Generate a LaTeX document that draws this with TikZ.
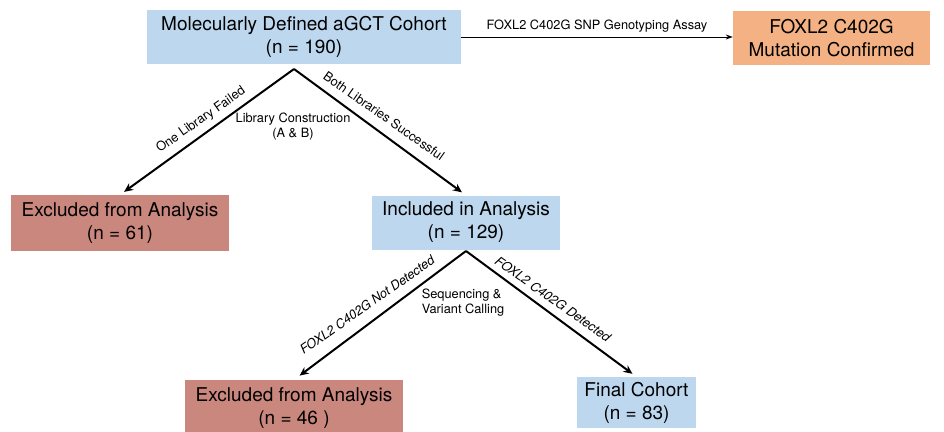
\documentclass[tikz,border=0pt]{standalone}
\usepackage{fontspec}
\setmainfont{TeX Gyre Heros}
\usetikzlibrary{arrows.meta}
\definecolor{bluebox}{RGB}{189,215,238}
\definecolor{orangebox}{RGB}{244,177,131}
\definecolor{redbox}{RGB}{201,135,126}
\begin{document}
\begin{tikzpicture}[x=1pt,y=-1pt,
  box/.style={rectangle, inner sep=0pt, align=center, font=\fontsize{19}{23}\selectfont, text=black},
  lbl/.style={inner sep=0pt, font=\fontsize{12.8}{15}\selectfont},
  ilbl/.style={inner sep=0pt, font=\fontsize{12.8}{15}\selectfont\itshape},
  fork/.style={line width=2pt, -{Stealth[length=9pt,width=8pt]}},
  thinarrow/.style={line width=0.9pt, -{Stealth[length=7pt,width=5pt]}}]
\useasboundingbox (0,0) rectangle (944,431);
\node[box, fill=bluebox, minimum width=314pt, minimum height=54pt] (top) at (304,37) {Molecularly Defined aGCT Cohort\\(n = 190)};
\node[box, fill=orangebox, minimum width=197pt, minimum height=54pt] (conf) at (831.5,38) {FOXL2 C402G\\Mutation Confirmed};
\node[box, fill=redbox, minimum width=218pt, minimum height=56pt] (ex1) at (120,223) {Excluded from Analysis\\(n = 61)};
\node[box, fill=bluebox, minimum width=188pt, minimum height=54pt] (inc) at (466,222.5) {Included in Analysis\\(n = 129)};
\node[box, fill=redbox, minimum width=218pt, minimum height=56pt] (ex2) at (294,408) {Excluded from Analysis\\(n = 46 )};
\node[box, fill=bluebox, minimum width=119pt, minimum height=51pt] (fin) at (636.5,402.5) {Final Cohort\\(n = 83)};

\coordinate (a1) at (294,69);
\coordinate (a2) at (466,251);

\draw[thinarrow] (top.east) -- (top.east -| conf.west)
  node[midway, above=4pt, lbl] (assay) {FOXL2 C402G SNP Genotyping Assay};

\draw[fork, shorten >=5pt] (a1) -- (ex1.north);
\draw[fork, shorten >=5pt] (a1) -- (inc.north);
\draw[fork, shorten >=7pt] (a2) -- (ex2.north);
\draw[fork, shorten >=5pt] (a2) -- (fin.north);

\node[lbl, rotate=35] (l1) at (201,120) {One Library Failed};
\node[lbl, rotate=-35] (l2) at (384,116) {Both Libraries Successful};
\node[lbl, align=center] (l3) at (293,127) {Library Construction\\(A \& B)};
\node[lbl, align=left] (l4) at (463,303) {Sequencing \&\\Variant Calling};
\node[ilbl, rotate=35] (l5) at (367,305) {FOXL2 C402G Not Detected};
\node[ilbl, rotate=-35] (l6) at (553,299) {FOXL2 C402G Detected};
\end{tikzpicture}
\end{document}
